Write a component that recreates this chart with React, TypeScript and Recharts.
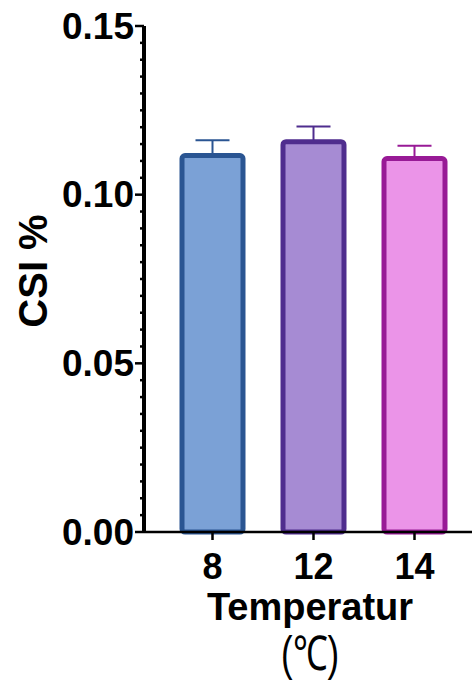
import { Bar, BarChart, Cell, ErrorBar, XAxis, YAxis } from "recharts";

const temps = ["8", "12", "14"];
const csiMean = [0.1116, 0.1157, 0.1107];
const csiErr = [0.0045, 0.0045, 0.0038];

const majorTicks = [0, 0.05, 0.1, 0.15];
const minorTicks = [
  0.005, 0.01, 0.015, 0.02, 0.025, 0.03, 0.035, 0.04, 0.045,
  0.055, 0.06, 0.065, 0.07, 0.075, 0.08, 0.085, 0.09, 0.095,
  0.105, 0.11, 0.115, 0.12, 0.125, 0.13, 0.135, 0.14, 0.145,
];

const fills = ["#7ba1d6", "#a68bd3", "#eb94e8"];
const strokes = ["#2a5592", "#4f2d8e", "#981a96"];

// one error key per bar so each whisker can take its bar's colour
const rows = temps.map((t, i) => {
  const row: Record<string, any> = { temp: t, csi: csiMean[i] };
  temps.forEach((_, j) => {
    row[`err${j}`] = i === j ? [0, csiErr[i]] : undefined;
  });
  return row;
});

const isMajor = (v: number) => majorTicks.some((m) => Math.abs(m - v) < 1e-9);

function YTick(props: any) {
  const { x, y, payload } = props;
  const axisX = x + 10;
  const major = isMajor(payload.value);
  return (
    <g>
      <line
        x1={axisX - (major ? 9 : 4)}
        x2={axisX}
        y1={y}
        y2={y}
        stroke="#000"
        strokeWidth={2.5}
      />
      {major && (
        <text
          x={x}
          y={y}
          textAnchor="end"
          dominantBaseline="central"
          fontSize={37}
          fontWeight={700}
          fill="#000"
        >
          {payload.value.toFixed(2)}
        </text>
      )}
    </g>
  );
}

function YLabel(props: any) {
  const { viewBox } = props;
  const cx = viewBox.x + 33;
  const cy = viewBox.y + viewBox.height / 2 - 8;
  return (
    <text
      x={cx}
      y={cy}
      transform={`rotate(-90 ${cx} ${cy})`}
      textAnchor="middle"
      dominantBaseline="central"
      fontSize={40}
      fontWeight={700}
      fill="#000"
    >
      CSI %
    </text>
  );
}

function XLabel(props: any) {
  const { viewBox } = props;
  const cx = viewBox.x + viewBox.width / 2 + 2;
  return (
    <g>
      <text
        x={cx}
        y={viewBox.y + 88}
        textAnchor="middle"
        fontSize={38}
        fontWeight={700}
        fill="#000"
      >
        Temperatur
      </text>
      <text
        x={cx}
        y={viewBox.y + 138}
        textAnchor="middle"
        fontSize={48}
        textLength={58}
        lengthAdjust="spacingAndGlyphs"
        fill="#000"
      >
        (℃)
      </text>
    </g>
  );
}

export default function App() {
  return (
    <div
      style={{
        position: "absolute",
        left: 0,
        top: 0,
        width: 472,
        height: 682,
        background: "#fff",
        fontFamily: '"Liberation Sans", Arial, sans-serif',
      }}
    >
      <BarChart
        width={472}
        height={682}
        data={rows}
        margin={{ top: 26, right: 0, bottom: 0, left: 0 }}
      >
        <XAxis
          dataKey="temp"
          type="category"
          padding={{ left: 18, right: 7 }}
          axisLine={{ stroke: "#000", strokeWidth: 2.5 }}
          tickLine={{ stroke: "#000", strokeWidth: 2.5 }}
          tickSize={8}
          tickMargin={13}
          tick={{ fill: "#000", fontSize: 36, fontWeight: 700 }}
          height={150}
          label={<XLabel />}
        />
        <YAxis
          type="number"
          domain={[0, 0.15]}
          ticks={[...majorTicks, ...minorTicks]}
          interval={0}
          width={144}
          axisLine={{ stroke: "#000", strokeWidth: 4 }}
          tickLine={false}
          tickSize={9}
          tickMargin={1}
          tick={(p: any) => <YTick {...p} />}
          label={<YLabel />}
        />
        <Bar
          dataKey="csi"
          barSize={61}
          strokeWidth={5}
          radius={3}
          isAnimationActive={false}
        >
          {rows.map((_, i) => (
            <Cell key={i} fill={fills[i]} stroke={strokes[i]} />
          ))}
          {temps.map((_, j) => (
            <ErrorBar
              key={j}
              dataKey={`err${j}`}
              direction="y"
              width={17}
              stroke={strokes[j]}
              strokeWidth={2}
              isAnimationActive={false}
            />
          ))}
        </Bar>
      </BarChart>
    </div>
  );
}
